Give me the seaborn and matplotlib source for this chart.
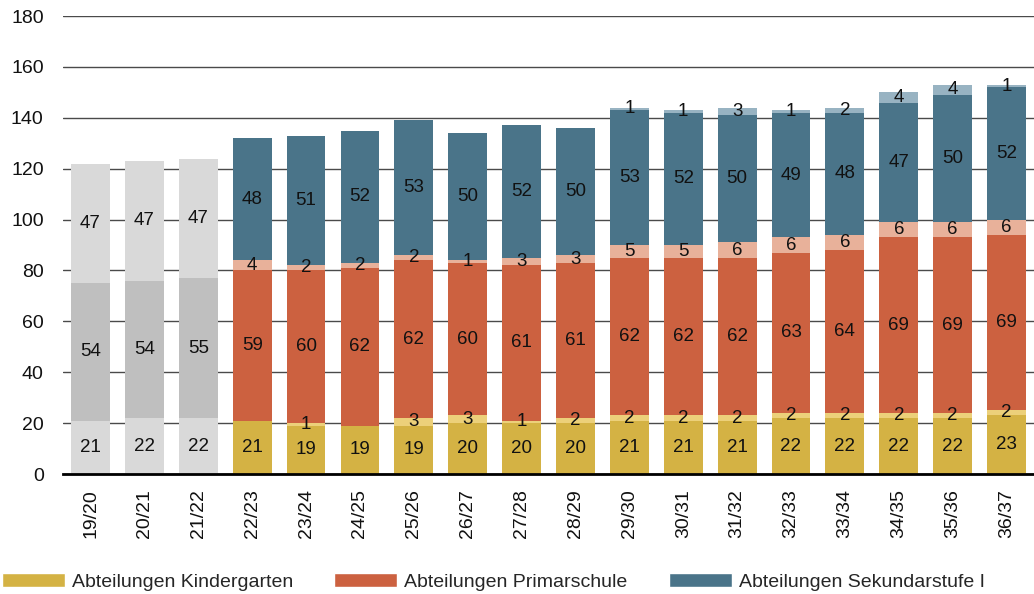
import matplotlib
matplotlib.use("Agg")
import matplotlib.pyplot as plt
from matplotlib.patches import Patch
import numpy as np
import pandas as pd
import seaborn as sns

years = ["19/20", "20/21", "21/22", "22/23", "23/24", "24/25", "25/26", "26/27", "27/28",
         "28/29", "29/30", "30/31", "31/32", "32/33", "33/34", "34/35", "35/36", "36/37"]
n_hist = 3  # first three school years shown in grey (historical)

kindergarten = [21, 22, 22, 21, 19, 19, 19, 20, 20, 20, 21, 21, 21, 22, 22, 22, 22, 23]
kindergarten_extra = [0, 0, 0, 0, 1, 0, 3, 3, 1, 2, 2, 2, 2, 2, 2, 2, 2, 2]
primar = [54, 54, 55, 59, 60, 62, 62, 60, 61, 61, 62, 62, 62, 63, 64, 69, 69, 69]
primar_extra = [0, 0, 0, 4, 2, 2, 2, 1, 3, 3, 5, 5, 6, 6, 6, 6, 6, 6]
sekundar = [47, 47, 47, 48, 51, 52, 53, 50, 52, 50, 53, 52, 50, 49, 48, 47, 50, 52]
sekundar_extra = [0, 0, 0, 0, 0, 0, 0, 0, 0, 0, 1, 1, 3, 1, 2, 4, 4, 1]

legend_labels = ["Abteilungen Kindergarten", "Abteilungen Primarschule", "Abteilungen Sekundarstufe I"]

layers = [kindergarten, kindergarten_extra, primar, primar_extra, sekundar, sekundar_extra]
colors_main = ["#d4b244", "#ecd07a", "#cc6140", "#e8b19a", "#4a7489", "#98b3c2"]
colors_hist = ["#d9d9d9", "#d9d9d9", "#bfbfbf", "#bfbfbf", "#d9d9d9", "#d9d9d9"]

sns.set_theme(style="white")
plt.rcParams["font.family"] = ["Liberation Sans", "DejaVu Sans"]

fig = plt.figure(figsize=(10.34, 5.94), dpi=100)
ax = fig.add_axes([0.061, 0.202, 0.939, 0.771])

vals = np.array(layers, dtype=float)
tops = np.cumsum(vals, axis=0)
bottoms = tops - vals

# draw from top layer down so that cumulative bars overlay to form stacks
for li in range(len(layers) - 1, -1, -1):
    df = pd.DataFrame({"year": years, "top": tops[li]})
    pal = {y: (colors_hist[li] if i < n_hist else colors_main[li]) for i, y in enumerate(years)}
    sns.barplot(data=df, x="year", y="top", hue="year", palette=pal, order=years,
                hue_order=years, legend=False, width=0.72, saturation=1, ax=ax,
                linewidth=0, zorder=2)

for li in range(len(layers)):
    for i in range(len(years)):
        v = vals[li, i]
        if v > 0:
            ax.text(i, bottoms[li, i] + v / 2, f"{int(v)}", ha="center", va="center",
                    fontsize=13.5, color="#111111", zorder=5)

ax.set_xlim(-0.51, len(years) - 0.49)
ax.set_ylim(0, 180)
ax.set_yticks(range(0, 181, 20))
ax.set_xlabel("")
ax.set_ylabel("")
ax.yaxis.grid(True, color="#4a4a4a", linewidth=1.0, zorder=0)
ax.set_axisbelow(True)
for s in ["left", "right", "top"]:
    ax.spines[s].set_visible(False)
ax.spines["bottom"].set_color("black")
ax.spines["bottom"].set_linewidth(2)
ax.spines["bottom"].set_zorder(6)
ax.tick_params(axis="y", length=0, pad=14, labelsize=14, labelcolor="#111111")
ax.tick_params(axis="x", length=0, pad=11, labelsize=14, labelcolor="#111111", rotation=90)

handles = [Patch(facecolor=colors_main[0]), Patch(facecolor=colors_main[2]), Patch(facecolor=colors_main[4])]
fig.legend(handles, legend_labels, loc="center left", bbox_to_anchor=(2 / 1034, 1 - 582 / 594), ncol=3,
           frameon=False, fontsize=14, handlelength=3.25, handleheight=0.75, handletextpad=0.36,
           columnspacing=2.1, borderaxespad=0, borderpad=0)

fig.savefig("out.png", dpi=100)
